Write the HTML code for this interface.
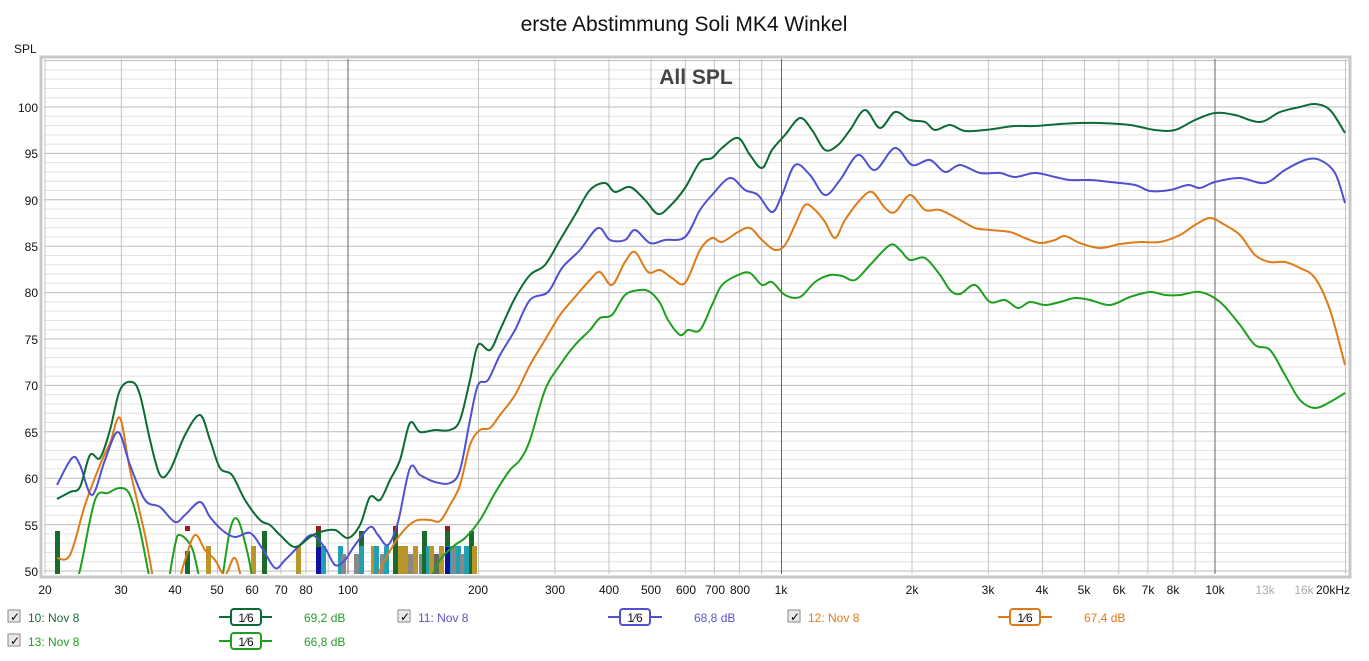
<!DOCTYPE html>
<html><head><meta charset="utf-8"><style>
body{margin:0;background:#fff;width:1369px;height:656px;overflow:hidden;font-family:"Liberation Sans",sans-serif;}
svg text{font-family:"Liberation Sans",sans-serif;}
</style></head><body>
<svg id="s" width="1369" height="656" xmlns="http://www.w3.org/2000/svg">
<rect x="0" y="0" width="1369" height="656" fill="#fff"/>
<text x="684" y="31" font-size="21" text-anchor="middle" fill="#111">erste Abstimmung Soli MK4 Winkel</text>
<text x="14" y="53" font-size="12" fill="#111">SPL</text>
<rect x="41" y="57" width="1309" height="520" fill="none" stroke="#c8c8c8" stroke-width="3"/>
<rect x="44" y="59" width="1304" height="515" fill="#fff"/>
<g id="grid"></g>
<text x="696" y="84" font-size="21" font-weight="bold" text-anchor="middle" fill="#444">All SPL</text>
<g id="bars"></g>
<defs><clipPath id="c"><rect x="44" y="59" width="1304" height="515"/></clipPath></defs>
<g id="curves" clip-path="url(#c)" fill="none" stroke-width="2"></g>
<g font-size="12" fill="#111" text-anchor="end">
<text x="38" y="112">100</text><text x="38" y="158">95</text><text x="38" y="205">90</text><text x="38" y="251">85</text><text x="38" y="297">80</text><text x="38" y="344">75</text><text x="38" y="390">70</text><text x="38" y="437">65</text><text x="38" y="483">60</text><text x="38" y="530">55</text><text x="38" y="576">50</text>
</g>
<g font-size="12" fill="#111" text-anchor="middle">
<text x="45" y="594">20</text><text x="121" y="594">30</text><text x="175" y="594">40</text><text x="217" y="594">50</text><text x="252" y="594">60</text><text x="281" y="594">70</text><text x="306" y="594">80</text><text x="348" y="594">100</text><text x="478" y="594">200</text><text x="555" y="594">300</text><text x="609" y="594">400</text><text x="651" y="594">500</text><text x="686" y="594">600</text><text x="715" y="594">700</text><text x="740" y="594">800</text><text x="781" y="594">1k</text><text x="912" y="594">2k</text><text x="988" y="594">3k</text><text x="1042" y="594">4k</text><text x="1084" y="594">5k</text><text x="1119" y="594">6k</text><text x="1148" y="594">7k</text><text x="1173" y="594">8k</text><text x="1215" y="594">10k</text><text fill="#aaa" x="1265" y="594">13k</text><text fill="#aaa" x="1304" y="594">16k</text><text x="1333" y="594">20kHz</text>
</g>
<g font-size="12">
<rect x="8" y="610" width="12" height="12" fill="#e8e8e8" stroke="#888"/><text x="10" y="621" font-size="12">✓</text>
<text x="28" y="622" fill="#1a6b3a">10: Nov 8</text>
<line x1="219" y1="617" x2="272" y2="617" stroke="#0b6b35" stroke-width="2"/><rect x="231" y="609" width="30" height="16" rx="3" fill="#fff" stroke="#0b6b35" stroke-width="2"/><text x="246" y="622" text-anchor="middle" fill="#111">1⁄6</text>
<text x="304" y="622" fill="#2a9a2a">69,2 dB</text>
<rect x="398" y="610" width="12" height="12" fill="#e8e8e8" stroke="#888"/><text x="400" y="621">✓</text>
<text x="418" y="622" fill="#5555cc">11: Nov 8</text>
<line x1="608" y1="617" x2="662" y2="617" stroke="#5050d0" stroke-width="2"/><rect x="620" y="609" width="30" height="16" rx="3" fill="#fff" stroke="#5050d0" stroke-width="2"/><text x="635" y="622" text-anchor="middle" fill="#111">1⁄6</text>
<text x="694" y="622" fill="#5555cc">68,8 dB</text>
<rect x="788" y="610" width="12" height="12" fill="#e8e8e8" stroke="#888"/><text x="790" y="621">✓</text>
<text x="808" y="622" fill="#e07b1a">12: Nov 8</text>
<line x1="998" y1="617" x2="1052" y2="617" stroke="#e07b1a" stroke-width="2"/><rect x="1010" y="609" width="30" height="16" rx="3" fill="#fff" stroke="#e07b1a" stroke-width="2"/><text x="1025" y="622" text-anchor="middle" fill="#111">1⁄6</text>
<text x="1084" y="622" fill="#e07b1a">67,4 dB</text>
<rect x="8" y="634" width="12" height="12" fill="#e8e8e8" stroke="#888"/><text x="10" y="645">✓</text>
<text x="28" y="646" fill="#1ea01e">13: Nov 8</text>
<line x1="219" y1="641" x2="272" y2="641" stroke="#1ea01e" stroke-width="2"/><rect x="231" y="633" width="30" height="16" rx="3" fill="#fff" stroke="#1ea01e" stroke-width="2"/><text x="246" y="646" text-anchor="middle" fill="#111">1⁄6</text>
<text x="304" y="646" fill="#2a9a2a">66,8 dB</text>
</g>
</svg>
<script>
var NS="http://www.w3.org/2000/svg";
function el(p,t,a){var e=document.createElementNS(NS,t);for(var k in a)e.setAttribute(k,a[k]);p.appendChild(e);return e;}
var g=document.getElementById("grid");
function X(f){return 45+433.5*Math.log10(f/20);}
function Y(d){return 571-(d-50)*9.28;}
for(var d=50;d<=105;d++){var y=Y(d);el(g,"line",{x1:44,x2:1348,y1:y,y2:y,stroke:d%5==0?"#bbb":"#e2e2e2","stroke-width":1});}
var fs=[];for(var dec=10;dec<=10000;dec*=10)for(var m=1;m<10;m++){var f=m*dec;if(f>=20&&f<=20000)fs.push(f);}
fs.forEach(function(f){var x=X(f);var major=(f==100||f==1000||f==10000);el(g,"line",{x1:x,x2:x,y1:59,y2:574,stroke:major?"#666":"#c4c4c4","stroke-width":1});});
[10000,11000,12000,13000,14000,15000,16000,17000,18000,19000].forEach(function(f){});
// bars
var b=document.getElementById("bars");
var bars=[[57,531,"#1a6b2a"],[187,551,"#1a6b2a"],[208,546,"#b8962a"],[253,546,"#b8962a"],[264,531,"#1a6b2a"],[298,546,"#b8962a"],[318,526,"#1a6b2a"],[323,546,"#20a0b0"],[340,546,"#20a0b0"],[343,554,"#888"],[356,554,"#888"],[361,531,"#1a6b2a"],[361,546,"#20a0b0"],[373,546,"#b8962a"],[376,546,"#20a0b0"],[382,554,"#888"],[386,546,"#20a0b0"],[395,526,"#1a6b2a"],[400,546,"#b8962a"],[405,546,"#b8962a"],[410,554,"#888"],[415,546,"#b8962a"],[421,554,"#888"],[424,531,"#1a6b2a"],[428,546,"#20a0b0"],[431,546,"#b8962a"],[436,554,"#666"],[441,546,"#b8962a"],[447,526,"#1a6b2a"],[449,546,"#20a0b0"],[453,546,"#888"],[458,546,"#20a0b0"],[462,554,"#888"],[466,546,"#20a0b0"],[471,531,"#1a6b2a"],[474,546,"#b8962a"]];
bars.forEach(function(r){el(b,"rect",{x:r[0]-2,y:r[1],width:5,height:574-r[1],fill:r[2]});});
[[187,526],[318,526],[395,526],[447,526]].forEach(function(r){el(b,"rect",{x:r[0]-2,y:r[1],width:5,height:5,fill:"#a01818"});});
el(b,"rect",{x:316,y:547,width:5,height:27,fill:"#1010a0"});el(b,"rect",{x:445,y:547,width:5,height:27,fill:"#1010a0"});
function path(pts){var d="M"+pts[0][0]+","+pts[0][1];for(var i=0;i<pts.length-1;i++){var p0=pts[i-1]||pts[i],p1=pts[i],p2=pts[i+1],p3=pts[i+2]||p2;var c1x=p1[0]+(p2[0]-p0[0])/6,c1y=p1[1]+(p2[1]-p0[1])/6,c2x=p2[0]-(p3[0]-p1[0])/6,c2y=p2[1]-(p3[1]-p1[1])/6;d+="C"+c1x.toFixed(1)+","+c1y.toFixed(1)+" "+c2x.toFixed(1)+","+c2y.toFixed(1)+" "+p2[0]+","+p2[1];}return d;}
var cv=document.getElementById("curves");
var lg=[[[57,499],[70,492],[80,487],[90,455],[100,458],[110,430],[120,390],[132,382],[140,395],[150,440],[160,475],[170,470],[185,435],[200,415],[210,440],[220,468],[232,475],[245,500],[260,520],[270,525],[280,535],[295,547],[310,537],[320,532],[335,530],[348,538],[360,525],[370,497],[380,500],[390,480],[400,460],[410,423],[420,432],[435,430],[450,430],[460,420],[470,380],[478,345],[490,350],[500,330],[515,298],[530,275],[545,265],[560,240],[575,215],[590,190],[605,183],[615,192],[630,187],[645,200],[658,214],[670,206],[685,188],[700,162],[712,158],[722,148],[738,138],[750,155],[762,168],[772,150],[785,135],[800,118],[812,130],[825,150],[838,145],[850,130],[865,110],[880,128],[895,112],[910,120],[925,122],[935,130],[950,125],[965,131],[985,130],[1000,128],[1015,126],[1035,126],[1060,124],[1080,123],[1100,123],[1130,125],[1155,130],[1175,130],[1195,120],[1215,113],[1235,115],[1260,122],[1280,112],[1300,107],[1315,104],[1330,110],[1345,133]],"#0b6b35"];
var bl=[[[57,485],[72,458],[80,465],[92,495],[105,460],[118,432],[130,465],[145,500],[160,507],[175,522],[185,515],[200,502],[210,517],[222,530],[235,537],[250,533],[262,548],[275,568],[285,560],[300,545],[312,535],[325,548],[335,565],[345,560],[355,545],[370,527],[378,535],[388,545],[398,522],[410,468],[420,475],[435,482],[450,483],[460,470],[470,420],[478,385],[488,380],[500,355],[515,330],[530,300],[548,292],[562,268],[580,250],[598,228],[610,240],[625,240],[635,230],[650,243],[665,240],[685,237],[700,210],[712,195],[730,178],[745,190],[758,195],[772,212],[782,195],[795,165],[810,175],[825,195],[840,180],[858,155],[875,170],[895,148],[912,165],[930,160],[945,172],[960,165],[980,173],[1000,173],[1015,177],[1035,173],[1055,177],[1070,180],[1090,180],[1110,182],[1135,185],[1150,191],[1170,190],[1188,185],[1200,188],[1215,182],[1240,178],[1265,183],[1285,170],[1305,160],[1320,160],[1335,173],[1345,203]],"#5050d0"];
var or=[[[57,558],[70,555],[85,505],[100,465],[110,443],[120,418],[130,470],[145,535],[158,600],[170,610],[185,560],[195,535],[205,550],[215,560],[225,575],[235,558],[245,590],[260,610],[350,610],[365,600],[385,560],[400,535],[415,521],[430,520],[440,521],[450,505],[460,485],[470,445],[480,430],[490,428],[500,415],[515,395],[530,365],[545,340],[560,315],[575,297],[590,280],[600,272],[612,285],[625,262],[635,252],[648,272],[660,270],[672,278],[685,283],[700,250],[712,238],[722,242],[738,232],[750,228],[762,240],[775,250],[785,245],[795,225],[805,205],[815,210],[825,222],[835,238],[845,220],[860,200],[872,192],[885,208],[895,212],[910,195],[925,210],[940,210],[960,220],[975,228],[990,230],[1010,232],[1025,238],[1040,243],[1055,240],[1065,236],[1080,243],[1100,248],[1120,244],[1140,242],[1160,242],[1180,235],[1195,225],[1210,218],[1225,225],[1240,235],[1255,255],[1270,262],[1285,262],[1300,268],[1315,278],[1330,310],[1345,365]],"#e07b1a"];
var gr=[[[70,600],[80,570],[95,500],[108,493],[120,488],[130,495],[140,530],[150,580],[158,610],[165,600],[175,545],[180,535],[192,548],[200,580],[210,610],[220,590],[230,530],[238,520],[248,555],[255,590],[265,610],[410,610],[425,590],[440,560],[455,545],[465,538],[480,520],[495,493],[510,470],[520,460],[530,440],[545,390],[560,365],[575,345],[590,330],[600,318],[612,315],[625,295],[640,290],[650,292],[660,303],[668,320],[680,335],[688,330],[700,330],[712,305],[722,285],[738,275],[750,273],[762,285],[772,282],[785,295],[800,297],[815,282],[830,275],[842,276],[855,280],[870,265],[890,245],[900,250],[910,260],[925,258],[940,275],[950,290],[960,294],[975,285],[990,302],[1005,300],[1018,308],[1030,302],[1045,305],[1060,302],[1075,298],[1090,300],[1110,305],[1130,297],[1150,292],[1165,295],[1180,295],[1200,292],[1220,302],[1240,325],[1255,345],[1270,350],[1285,375],[1300,400],[1315,408],[1330,402],[1345,393]],"#1ea01e"];
[gr,or,bl,lg].forEach(function(c){el(cv,"path",{d:path(c[0]),stroke:c[1]});});
</script>
</body></html>
